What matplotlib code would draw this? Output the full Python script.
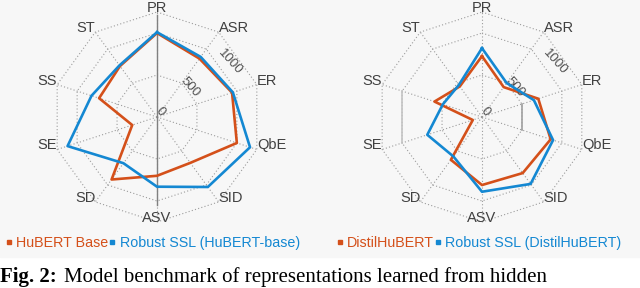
# Radar charts: SUPERB task scores, base models vs Robust SSL
import numpy as np
import matplotlib
matplotlib.use('Agg')
import matplotlib.pyplot as plt
from matplotlib.lines import Line2D

plt.rcParams['font.family'] = ['Liberation Sans', 'DejaVu Sans']

# Dados (mesma escala radial: 0 .. 1250)
tasks = ['PR', 'ASR', 'ER', 'QbE', 'SID', 'ASV', 'SD', 'SE', 'SS', 'ST']
hubert_base = [1000, 860, 940, 1000, 675, 700, 920, 310, 725, 750]
robust_hubert = [1010, 885, 950, 1165, 1030, 830, 680, 1120, 820, 760]
distilhubert = [725, 440, 705, 860, 825, 810, 630, 115, 595, 450]
robust_distil = [820, 500, 650, 890, 985, 890, 580, 685, 490, 470]

ring_values = [500, 1000, 1250]
tick_labels = ['0', '500', '1000']
r_max = 1250

orange = '#D4501A'
blue = '#1488D2'
grid_color = '#9c9c9c'
text_color = '#404040'

theta = np.deg2rad(np.arange(len(tasks)) * 360 / len(tasks))
closed = np.append(theta, theta[0])


def radar(ax, base, robust):
    ax.set_theta_zero_location('N')
    ax.set_theta_direction(-1)
    ax.set_ylim(0, r_max)
    ax.axis('off')
    # grade pontilhada
    for r in ring_values:
        ax.plot(closed, [r] * len(closed), ls=(0, (1, 2)), color=grid_color, lw=0.8, clip_on=False)
    for t in theta:
        ax.plot([t, t], [0, r_max], ls=(0, (1, 2)), color=grid_color, lw=0.8, clip_on=False)
    # series
    ax.plot(closed, base + base[:1], color=orange, lw=1.9, clip_on=False, zorder=3)
    ax.plot(closed, robust + robust[:1], color=blue, lw=1.9, clip_on=False, zorder=4)
    # nomes das tarefas
    for t, name in zip(theta, tasks):
        deg = np.rad2deg(t)
        if deg in (0, 180):
            ha = 'center'
        elif deg < 180:
            ha = 'left'
        else:
            ha = 'right'
        ax.text(t, r_max, name, ha=ha, va='baseline', fontsize=10.5, color=text_color)
    # rótulos do eixo radial
    for (ang, r), lab in zip([(35, 75), (48, 530), (53, 1085)], tick_labels):
        ax.text(np.deg2rad(ang), r, lab, rotation=-48, ha='center', va='center',
                fontsize=9.5, color='#505050')


fig = plt.figure(figsize=(6.4, 2.88), dpi=100)
fig.patch.set_facecolor('white')
fig.add_artist(plt.Rectangle((0, 0.108), 1, 0.9, transform=fig.transFigure,
                             color='#f7f7f7', zorder=-1))

ax1 = fig.add_axes([0.0813, 0.2292, 0.328, 0.729], projection='polar')
ax2 = fig.add_axes([0.5891, 0.2292, 0.328, 0.729], projection='polar')

radar(ax1, hubert_base, robust_hubert)
radar(ax2, distilhubert, robust_distil)

# linhas cinza sólidas que aparecem na figura original
ax1.plot([0, 0], [0, 1215], color='#808080', lw=1.0, zorder=2)
ax1.plot([np.pi, np.pi], [0, 1050], color='#808080', lw=1.0, zorder=2)
ax2.plot([theta[8], theta[7]], [1000, 1000], color='#c4c4c4', lw=1.2, zorder=2)
ax2.plot([theta[2], theta[3]], [500, 500], color='#a0a0a0', lw=1.2, zorder=2)


# legendas
def legenda(ax, names, x):
    handles = [Line2D([], [], marker='s', ls='none', color=c, markersize=3.5) for c in (orange, blue)]
    ax.legend(handles, names, loc='upper left', bbox_to_anchor=(x, 0.18),
              bbox_transform=fig.transFigure, ncol=2, frameon=False,
              handlelength=0.5, handletextpad=0.25, columnspacing=0.05,
              labelcolor=[orange, blue], fontsize=10.3, borderpad=0, borderaxespad=0)


legenda(ax1, ['HuBERT Base', 'Robust SSL (HuBERT-base)'], 0.008)
legenda(ax2, ['DistilHuBERT', 'Robust SSL (DistilHuBERT)'], 0.525)

# legenda da figura (na faixa branca inferior)
t1 = fig.text(0.0, 0.004, 'Fig. 2:', fontsize=15, fontweight='bold', family='Liberation Serif',
              va='bottom', ha='left')
fig.canvas.draw()
x_next = t1.get_window_extent().x1 / fig.bbox.width + 0.012
fig.text(x_next, 0.004, 'Model benchmark of representations learned from hidden',
         fontsize=15, family='Liberation Serif', va='bottom', ha='left')

fig.savefig('out.png', dpi=100, facecolor=fig.get_facecolor())
